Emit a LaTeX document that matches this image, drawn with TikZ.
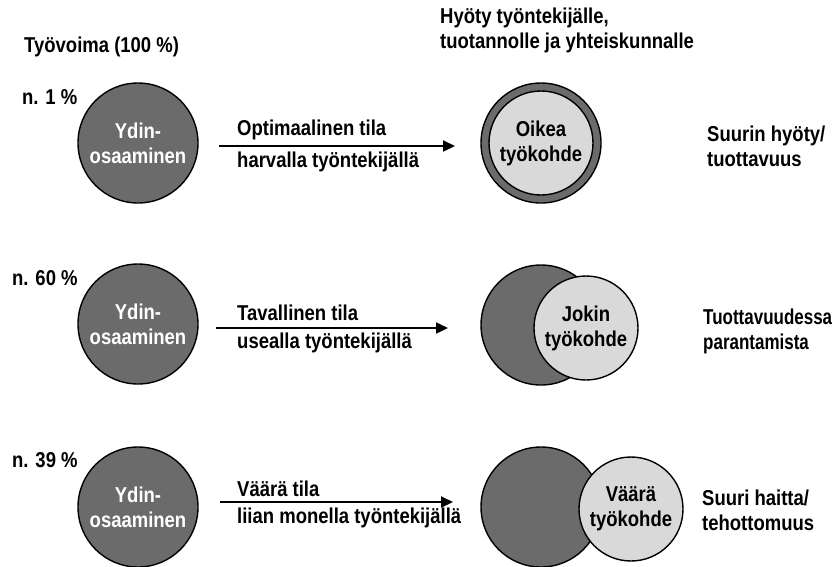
\documentclass[tikz,border=0pt]{standalone}
\usepackage{fontspec}
\setmainfont[FakeStretch=0.86]{Liberation Sans}
\newfontfamily\narrowf[FakeStretch=0.79]{Liberation Sans}
\usetikzlibrary{arrows.meta}
\definecolor{darkg}{HTML}{6B6B6B}
\definecolor{lightg}{HTML}{D9D9D9}
\tikzset{
  fnt/.style={font=\fontsize{21.5}{25}\selectfont\bfseries},
  txt/.style={fnt, inner sep=0pt, align=left},
  core/.style={circle, draw=black, line width=1.4pt, fill=darkg, minimum size=120pt, inner sep=0pt,
    text=white, fnt, align=center},
  big/.style={circle, draw=black, line width=1.4pt, fill=darkg, minimum size=120pt, inner sep=0pt},
  tgt/.style={circle, draw=black, line width=1.4pt, fill=lightg, minimum size=104pt, inner sep=0pt,
    fnt, align=center},
  arr/.style={line width=2pt, -{Triangle[length=12pt,width=11pt]}}
}
\begin{document}
\begin{tikzpicture}[x=1pt,y=-1pt]
\useasboundingbox (0,0) rectangle (832,566);
% headers
\node[txt, anchor=west] (h1) at (24,47) {Työvoima (100 \%)};
\node[txt, anchor=west] (h2) at (440,30) {Hyöty työntekijälle,\\tuotannolle ja yhteiskunnalle};
% row 1
\node[txt, anchor=west] (p1) at (22,97) {n. 1 \%};
\node[core] (c1) at (138,143) {Ydin-\\osaaminen};
\node[big] (r1) at (541,143) {};
\node[tgt] (t1) at (541,143) {Oikea\\työkohde};
\coordinate (a1s) at (219,146);
\coordinate (a1e) at (455,146);
\draw[arr] (a1s) -- (a1e);
\node[txt, anchor=west] (u1) at (237,130) {Optimaalinen tila};
\node[txt, anchor=west] (l1) at (237,162) {harvalla työntekijällä};
\node[txt, anchor=west] (e1) at (707,146) {Suurin hyöty/\\tuottavuus};
% row 2
\node[txt, anchor=west] (p2) at (12,278) {n. 60 \%};
\node[core] (c2) at (138,324) {Ydin-\\osaaminen};
\node[big] (r2) at (541,325) {};
\node[tgt] (t2) at (586,328) {Jokin\\työkohde};
\coordinate (a2s) at (216,328);
\coordinate (a2e) at (448,328);
\draw[arr] (a2s) -- (a2e);
\node[txt, anchor=west] (u2) at (237,313) {Tavallinen tila};
\node[txt, anchor=west] (l2) at (237,343) {usealla työntekijällä};
\node[txt, anchor=west, font=\fontsize{21.5}{25}\selectfont\narrowf\bfseries] (e2) at (703,331) {Tuottavuudessa\\parantamista};
% row 3
\node[txt, anchor=west] (p3) at (12,460) {n. 39 \%};
\node[core] (c3) at (138,507) {Ydin-\\osaaminen};
\node[big] (r3) at (541,507) {};
\node[tgt] (t3) at (631,509) {Väärä\\työkohde};
\coordinate (a3s) at (220,502);
\coordinate (a3e) at (453,502);
\draw[arr] (a3s) -- (a3e);
\node[txt, anchor=west] (u3) at (237,489) {Väärä tila};
\node[txt, anchor=west] (l3) at (237,518) {liian monella työntekijällä};
\node[txt, anchor=west] (e3) at (702,510) {Suuri haitta/\\tehottomuus};
\end{tikzpicture}
\end{document}
